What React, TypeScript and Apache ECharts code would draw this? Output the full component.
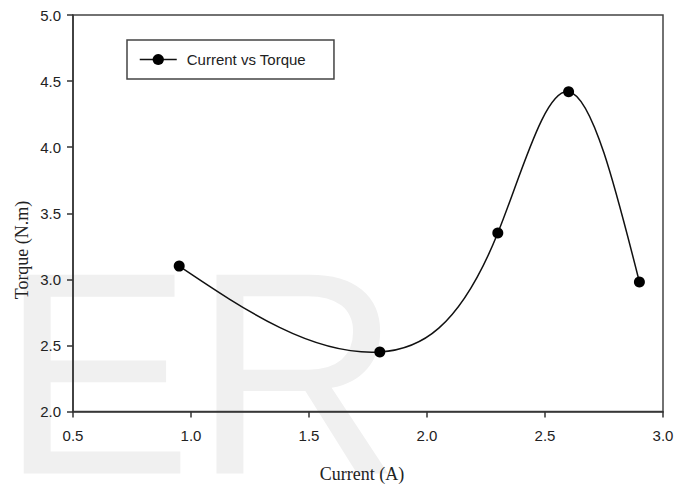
import React, { useEffect, useRef } from "react";
import * as echarts from "echarts";

const currentA = [0.95, 1.8, 2.3, 2.6, 2.9];
const torqueNm = [3.1, 2.45, 3.35, 4.42, 2.98];
const seriesName = "Current vs Torque";
const xTitle = "Current (A)";
const yTitle = "Torque (N.m)";
const watermark = "ER";

// Natural cubic spline slopes at each knot (used only to shape the drawn curve)
function splineSlopes(xs: number[], ys: number[]): number[] {
  const n = xs.length;
  const h: number[] = [];
  for (let i = 0; i < n - 1; i++) h.push(xs[i + 1] - xs[i]);
  const M = new Array(n).fill(0);
  const m = n - 2;
  if (m > 0) {
    const a: number[] = [], b: number[] = [], c: number[] = [], d: number[] = [];
    for (let k = 0; k < m; k++) {
      const i = k + 1;
      a.push(h[i - 1]);
      b.push(2 * (h[i - 1] + h[i]));
      c.push(h[i]);
      d.push(6 * ((ys[i + 1] - ys[i]) / h[i] - (ys[i] - ys[i - 1]) / h[i - 1]));
    }
    for (let k = 1; k < m; k++) {
      const w = a[k] / b[k - 1];
      b[k] -= w * c[k - 1];
      d[k] -= w * d[k - 1];
    }
    const sol = new Array(m).fill(0);
    sol[m - 1] = d[m - 1] / b[m - 1];
    for (let k = m - 2; k >= 0; k--) sol[k] = (d[k] - c[k] * sol[k + 1]) / b[k];
    for (let k = 0; k < m; k++) M[k + 1] = sol[k];
  }
  const slopes: number[] = [];
  for (let i = 0; i < n; i++) {
    if (i < n - 1) {
      slopes.push((ys[i + 1] - ys[i]) / h[i] - (h[i] * (2 * M[i] + M[i + 1])) / 6);
    } else {
      const j = n - 2;
      slopes.push((ys[j + 1] - ys[j]) / h[j] + (h[j] * (M[j] + 2 * M[j + 1])) / 6);
    }
  }
  return slopes;
}

export default function App() {
  const ref = useRef<HTMLDivElement>(null);
  useEffect(() => {
    if (!ref.current) return;
    const chart = echarts.init(ref.current, null, { renderer: "svg" });
    const sans = "'Liberation Sans', Arial, sans-serif";
    const serif = "'Liberation Serif', 'Times New Roman', serif";
    const slopes = splineSlopes(currentA, torqueNm);
    const segments = currentA.slice(0, -1).map((x, i) => [x, torqueNm[i], currentA[i + 1], torqueNm[i + 1]]);

    chart.setOption({
      animation: false,
      backgroundColor: "#ffffff",
      grid: {
        left: 73,
        right: 26,
        top: 15,
        bottom: 75.5,
        show: true,
        borderColor: "#444",
        borderWidth: 1.5,
        backgroundColor: "transparent",
      },
      legend: {
        left: 127,
        top: 40,
        orient: "horizontal",
        padding: [12, 28, 12, 12],
        borderColor: "#444",
        borderWidth: 1.5,
        borderRadius: 0,
        itemWidth: 37,
        itemHeight: 14,
        lineStyle: { color: "#111", width: 1.5, opacity: 1 },
        textStyle: {
          fontFamily: sans,
          fontSize: 15,
          color: "#222",
          padding: [0, 0, 0, 5],
        },
        data: [seriesName],
      },
      xAxis: {
        type: "value",
        min: 0.5,
        max: 3.0,
        interval: 0.5,
        axisLine: { show: true, onZero: false, lineStyle: { color: "#333", width: 1.5 } },
        axisTick: { show: true, inside: false, length: 6, lineStyle: { color: "#333", width: 1.5 } },
        axisLabel: {
          margin: 16,
          fontFamily: sans,
          fontSize: 15,
          color: "#222",
          formatter: (v: number) => v.toFixed(1),
        },
        splitLine: { show: false },
      },
      yAxis: {
        type: "value",
        min: 2.0,
        max: 5.0,
        interval: 0.5,
        axisLine: { show: true, onZero: false, lineStyle: { color: "#333", width: 1.5 } },
        axisTick: { show: true, inside: false, length: 6, lineStyle: { color: "#333", width: 1.5 } },
        axisLabel: {
          margin: 12,
          fontFamily: sans,
          fontSize: 15,
          color: "#222",
          formatter: (v: number) => v.toFixed(1),
        },
        splitLine: { show: false },
      },
      graphic: [
        {
          type: "text",
          z: -10,
          silent: true,
          x: 0,
          y: 373,
          style: {
            text: watermark,
            fontFamily: sans,
            fontSize: 289,
            fill: "#f0f0f0",
            textAlign: "left",
            textVerticalAlign: "middle",
          },
        },
        {
          type: "text",
          x: 362,
          y: 474,
          style: {
            text: xTitle,
            fontFamily: serif,
            fontSize: 18,
            fill: "#222",
            textAlign: "center",
            textVerticalAlign: "middle",
          },
        },
        {
          type: "text",
          x: 22,
          y: 250,
          rotation: Math.PI / 2,
          style: {
            text: yTitle,
            fontFamily: serif,
            fontSize: 18,
            fill: "#222",
            textAlign: "center",
            textVerticalAlign: "middle",
          },
        },
      ],
      series: [
        {
          name: "spline",
          type: "custom",
          silent: true,
          clip: false,
          z: 2,
          data: segments,
          encode: { x: [0, 2], y: [1, 3] },
          renderItem: (params: any, api: any) => {
            const i = params.dataIndex;
            const x0 = currentA[i], y0 = torqueNm[i];
            const x1 = currentA[i + 1], y1 = torqueNm[i + 1];
            const h = x1 - x0;
            const p0 = api.coord([x0, y0]);
            const c1 = api.coord([x0 + h / 3, y0 + (h / 3) * slopes[i]]);
            const c2 = api.coord([x1 - h / 3, y1 - (h / 3) * slopes[i + 1]]);
            const p1 = api.coord([x1, y1]);
            return {
              type: "bezierCurve",
              shape: {
                x1: p0[0], y1: p0[1],
                x2: p1[0], y2: p1[1],
                cpx1: c1[0], cpy1: c1[1],
                cpx2: c2[0], cpy2: c2[1],
              },
              style: { stroke: "#111", lineWidth: 1.5, fill: "none" },
            };
          },
        },
        {
          name: seriesName,
          type: "line",
          symbol: "circle",
          symbolSize: 11,
          lineStyle: { color: "#111", width: 1.5, opacity: 0 },
          itemStyle: { color: "#000" },
          data: currentA.map((x, i) => [x, torqueNm[i]]),
          z: 3,
        },
      ],
    });
    return () => chart.dispose();
  }, []);
  return <div ref={ref} style={{ width: 689, height: 487, position: "absolute", left: 0, top: 0 }} />;
}
